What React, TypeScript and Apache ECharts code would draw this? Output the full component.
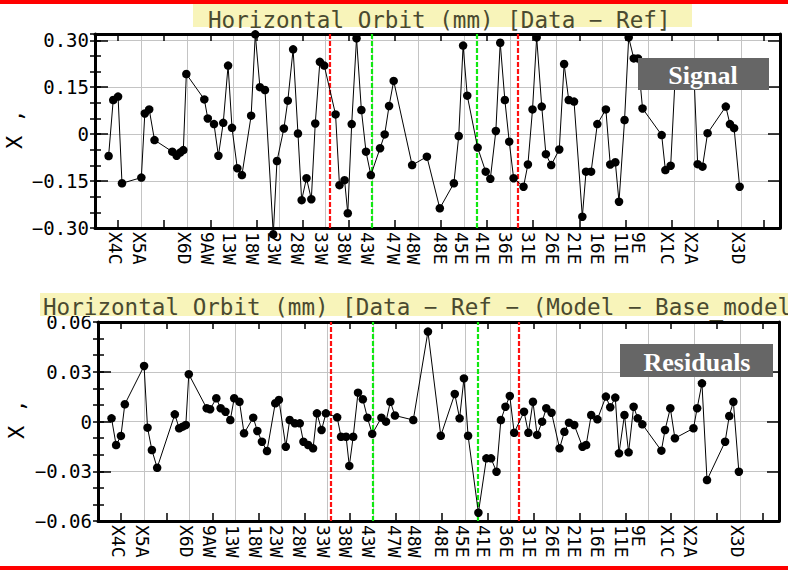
import React, { useEffect, useRef } from 'react';
import * as echarts from 'echarts';

// BPM positions along the ring (arbitrary units, gridline every 2)
const positions = [
  0.59, 0.79, 1.0, 1.17, 2.01, 2.16, 2.35, 2.58, 3.35, 3.54,
  3.69, 3.83, 3.96, 4.74, 4.89, 5.16, 5.35, 5.56, 5.77, 5.94,
  6.17, 6.37, 6.77, 6.95, 7.15, 7.37, 7.73, 7.89, 8.19, 8.36,
  8.59, 8.8, 8.96, 9.17, 9.38, 9.55, 9.75, 9.94, 10.43, 10.6,
  10.82, 10.96, 11.13, 11.34, 11.55, 11.75, 11.96, 12.36, 12.56, 12.75,
  12.95, 13.75, 14.39, 14.95, 15.56, 15.77, 15.96, 16.14, 16.59, 16.94,
  17.14, 17.38, 17.57, 17.77, 17.96, 18.15, 18.58, 18.77, 18.97, 19.15,
  19.37, 19.55, 19.78, 20.13, 20.34, 20.54, 20.77, 21.13, 21.29, 21.51,
  21.78, 22.15, 22.34, 22.56, 22.72, 22.96, 23.14, 23.36, 23.54, 23.74,
  24.57, 24.73, 24.96, 25.16, 25.97, 26.13, 26.34, 26.56, 27.35, 27.53,
  27.71, 27.95,
];

// Horizontal orbit, Data - Ref (mm)
const signal = [
  -0.070, 0.109, 0.120, -0.157, -0.139, 0.066, 0.079, -0.019, -0.056, -0.069,
  -0.059, -0.051, 0.192, 0.111, 0.050, 0.032, -0.069, 0.036, 0.219, 0.020,
  -0.109, -0.131, 0.059, 0.319, 0.150, 0.141, -0.320, -0.086, 0.018, 0.107,
  0.271, 0.002, -0.211, -0.141, -0.208, 0.034, 0.231, 0.219, 0.063, -0.163,
  -0.147, -0.253, 0.032, 0.306, 0.077, -0.056, -0.131, -0.045, -0.001, 0.090,
  0.170, -0.099, -0.072, -0.237, -0.157, -0.006, 0.283, 0.123, -0.043, -0.120,
  -0.143, 0.010, 0.292, 0.109, -0.024, -0.141, -0.168, -0.097, 0.079, 0.309,
  0.088, -0.064, -0.099, -0.049, 0.224, 0.109, 0.104, -0.264, -0.120, -0.120,
  0.032, 0.079, -0.097, -0.090, -0.216, 0.045, 0.309, 0.242, 0.242, 0.082,
  -0.003, -0.115, -0.101, 0.190, 0.190, -0.096, -0.104, 0.003, 0.088, 0.032,
  0.019, -0.168,
];

// Data - Ref - (Model - Base_model) (mm)
const residuals = [
  0.0019, -0.0142, -0.0087, 0.0104, 0.0335, -0.0037, -0.0172, -0.0279, 0.0043, -0.0041,
  -0.0031, -0.0021, 0.0285, 0.0080, 0.0074, 0.0140, 0.0080, 0.0059, 0.0009, 0.0140,
  0.0119, -0.0071, 0.0023, -0.0057, -0.0122, -0.0178, 0.0110, 0.0130, -0.0152, 0.0009,
  -0.0011, -0.0011, -0.0122, -0.0142, -0.0162, 0.0049, -0.0051, 0.0049, 0.0025, -0.0092,
  -0.0092, -0.0268, -0.0092, 0.0174, 0.0134, 0.0023, -0.0075, 0.0023, -0.0001, 0.0119,
  0.0036, 0.0009, 0.0542, -0.0086, 0.0166, 0.0019, 0.0260, -0.0086, -0.0550, -0.0222,
  -0.0222, -0.0303, 0.0009, 0.0089, 0.0154, -0.0068, 0.0059, -0.0068, 0.0119, -0.0081,
  -0.0001, 0.0080, 0.0053, -0.0162, -0.0062, -0.0007, -0.0021, -0.0152, -0.0142, 0.0039,
  0.0013, 0.0150, 0.0086, 0.0144, -0.0192, 0.0039, -0.0186, 0.0089, 0.0019, -0.0017,
  -0.0176, -0.0051, 0.0080, -0.0101, -0.0041, 0.0080, 0.0230, -0.0353, -0.0122, 0.0033,
  0.0119, -0.0303,
];

const bpmNames = [
  'X4C', 'X5A', 'X6D', '9AW', '13W', '18W', '23W', '28W', '33W', '38W', '43W', '47W', '48W',
  '48E', '45E', '41E', '36E', '31E', '26E', '21E', '16E', '11E', '9E', 'X1C', 'X2A', 'X3D',
];
const bpmPositions = [
  0.9, 1.92, 3.88, 4.87, 5.85, 6.85, 7.8, 8.8, 9.83, 10.8, 11.8, 12.93, 13.8,
  14.97, 15.9, 16.8, 17.8, 18.8, 19.82, 20.8, 21.78, 22.82, 23.56, 24.84, 25.85, 27.9,
];

const redMarkers = [10.16, 18.34];
const greenMarkers = [12.0, 16.55];

const signalRange = [-0.30, 0.32];
const signalSteps = [0.15, 0.05];
const residualRange = [-0.06, 0.06];
const residualSteps = [0.03, 0.01];
const xRange = [0, 29.7];

const MONO = '"DejaVu Sans Mono", monospace';
const GRID_GRAY = '#c4c4c4';

function fmtY(step: number) {
  return (v: number) => {
    const k = v / step;
    if (Math.abs(k - Math.round(k)) > 1e-6) return '';
    if (Math.abs(v) < 1e-9) return '0';
    const s = Math.abs(v).toFixed(2);
    return v < 0 ? '\u2212' + s : s;
  };
}

function xLabel(v: number) {
  const i = bpmPositions.findIndex((p) => Math.abs(p - v) < 1e-6);
  return i >= 0 ? bpmNames[i] : '';
}

function xAxesFor(gridIndex: number) {
  return [
    {
      type: 'value', gridIndex, position: 'bottom', min: xRange[0], max: xRange[1], interval: 2,
      axisLine: { show: true, onZero: false, lineStyle: { color: '#000', width: 3 } },
      axisTick: { show: false, inside: true },
      minorTick: { show: true, splitNumber: 2, length: 8, lineStyle: { color: '#000', width: 1.5 } },
      splitLine: { show: true, lineStyle: { color: GRID_GRAY, width: 1 } },
      axisLabel: {
        show: true, customValues: bpmPositions, formatter: xLabel, rotate: -90,
        fontFamily: MONO, fontSize: 18, color: '#000', margin: 4,
      },
    },
    {
      type: 'value', gridIndex, position: 'top', min: xRange[0], max: xRange[1], interval: 2,
      axisLine: { show: true, onZero: false, lineStyle: { color: '#000', width: 3 } },
      axisTick: { show: false, inside: true },
      minorTick: { show: true, splitNumber: 2, length: 7, lineStyle: { color: '#000', width: 1.5 } },
      splitLine: { show: false },
      axisLabel: { show: false },
    },
  ];
}

function yAxesFor(gridIndex: number, range: number[], steps: number[]) {
  const base = { type: 'value', gridIndex, min: range[0], max: range[1] };
  return [
    {
      ...base, position: 'left', interval: steps[0],
      axisLine: { show: true, onZero: false, lineStyle: { color: '#000', width: 3 } },
      axisTick: { show: true, inside: true, length: 13, lineStyle: { color: '#000', width: 1.5 } },
      splitLine: { show: true, lineStyle: { color: GRID_GRAY, width: 1 } },
      axisLabel: { show: true, formatter: fmtY(steps[0]), fontFamily: MONO, fontSize: 19, color: '#000', margin: 6 },
    },
    {
      ...base, position: 'left', interval: steps[1],
      axisLine: { show: false },
      axisTick: { show: true, inside: true, length: 6, lineStyle: { color: '#000', width: 1.5 } },
      splitLine: { show: false },
      axisLabel: { show: false },
    },
    {
      ...base, position: 'right', interval: steps[0],
      axisLine: { show: true, onZero: false, lineStyle: { color: '#000', width: 3 } },
      axisTick: { show: true, inside: true, length: 12, lineStyle: { color: '#000', width: 1.5 } },
      splitLine: { show: false },
      axisLabel: { show: false },
    },
    {
      ...base, position: 'right', interval: steps[1],
      axisLine: { show: false },
      axisTick: { show: true, inside: true, length: 5, lineStyle: { color: '#000', width: 1.5 } },
      splitLine: { show: false },
      axisLabel: { show: false },
    },
  ];
}

function markerLines() {
  return [
    ...redMarkers.map((v) => ({ xAxis: v, lineStyle: { color: '#ff1010', type: [5, 2], width: 2.2 } })),
    ...greenMarkers.map((v) => ({ xAxis: v, lineStyle: { color: '#10e810', type: [5, 2], width: 2.2 } })),
  ];
}

function dataSeries(xAxisIndex: number, yAxisIndex: number, values: number[]) {
  return {
    type: 'line', xAxisIndex, yAxisIndex,
    data: positions.map((p, i) => [p, values[i]]),
    symbol: 'circle', symbolSize: 8.5, clip: false, z: 3,
    itemStyle: { color: '#000' },
    lineStyle: { color: '#000', width: 1 },
    emphasis: { disabled: true },
    markLine: {
      silent: true, symbol: ['none', 'none'], label: { show: false }, z: 2,
      emphasis: { disabled: true },
      data: markerLines(),
    },
  };
}

export default function App() {
  const ref = useRef<HTMLDivElement>(null);
  useEffect(() => {
    document.body.style.margin = '0';
    const chart = echarts.init(ref.current!, null, { renderer: 'svg' });
    const titleFont = '22.6px "DejaVu Sans Mono"';
    const boxFont = 'bold 26px "Liberation Serif"';
    chart.setOption({
      animation: false,
      backgroundColor: '#ffffff',
      textStyle: { fontFamily: MONO },
      grid: [
        { left: 95, top: 34, width: 685, height: 194, outerBoundsMode: 'none' },
        { left: 98, top: 322, width: 681, height: 199, outerBoundsMode: 'none' },
      ],
      xAxis: [...xAxesFor(0), ...xAxesFor(1)],
      yAxis: [
        ...yAxesFor(0, signalRange, signalSteps),
        ...yAxesFor(1, residualRange, residualSteps),
      ],
      series: [dataSeries(0, 0, signal), dataSeries(2, 4, residuals)],
      graphic: [
        { type: 'rect', z: 100, shape: { x: 0, y: 0, width: 788, height: 4 }, style: { fill: '#ff0000' } },
        { type: 'rect', z: 100, shape: { x: 0, y: 566, width: 788, height: 4 }, style: { fill: '#ff0000' } },
        { type: 'rect', z: 100, shape: { x: 193, y: 4, width: 499, height: 23 }, style: { fill: '#f8f4ba' } },
        {
          type: 'text', z: 101, x: 208, y: 20,
          style: { text: 'Horizontal Orbit (mm) [Data \u2212 Ref]', fill: '#4a4a30', font: titleFont, align: 'left', verticalAlign: 'middle' },
        },
        { type: 'rect', z: 100, shape: { x: 40, y: 293, width: 748, height: 23 }, style: { fill: '#f8f4ba' } },
        {
          type: 'text', z: 101, x: 43, y: 307,
          style: { text: 'Horizontal Orbit (mm) [Data \u2212 Ref \u2212 (Model \u2212 Base_model)]', fill: '#4a4a30', font: titleFont, align: 'left', verticalAlign: 'middle' },
        },
        { type: 'rect', z: 100, shape: { x: 638, y: 58, width: 131, height: 32 }, style: { fill: '#666666' } },
        {
          type: 'text', z: 101, x: 703, y: 75,
          style: { text: 'Signal', fill: '#ffffff', font: boxFont, align: 'center', verticalAlign: 'middle' },
        },
        { type: 'rect', z: 100, shape: { x: 620, y: 344, width: 153, height: 33 }, style: { fill: '#666666' } },
        {
          type: 'text', z: 101, x: 697, y: 362,
          style: { text: 'Residuals', fill: '#ffffff', font: boxFont, align: 'center', verticalAlign: 'middle' },
        },
        {
          type: 'text', z: 101, x: 14, y: 129, rotation: Math.PI / 2,
          style: { text: 'X ,', fill: '#000', font: '22px "DejaVu Sans Mono"', align: 'center', verticalAlign: 'middle' },
        },
        {
          type: 'text', z: 101, x: 16, y: 419, rotation: Math.PI / 2,
          style: { text: 'X ,', fill: '#000', font: '22px "DejaVu Sans Mono"', align: 'center', verticalAlign: 'middle' },
        },
      ],
    });
    return () => chart.dispose();
  }, []);
  return <div ref={ref} style={{ width: 788, height: 570 }} />;
}
